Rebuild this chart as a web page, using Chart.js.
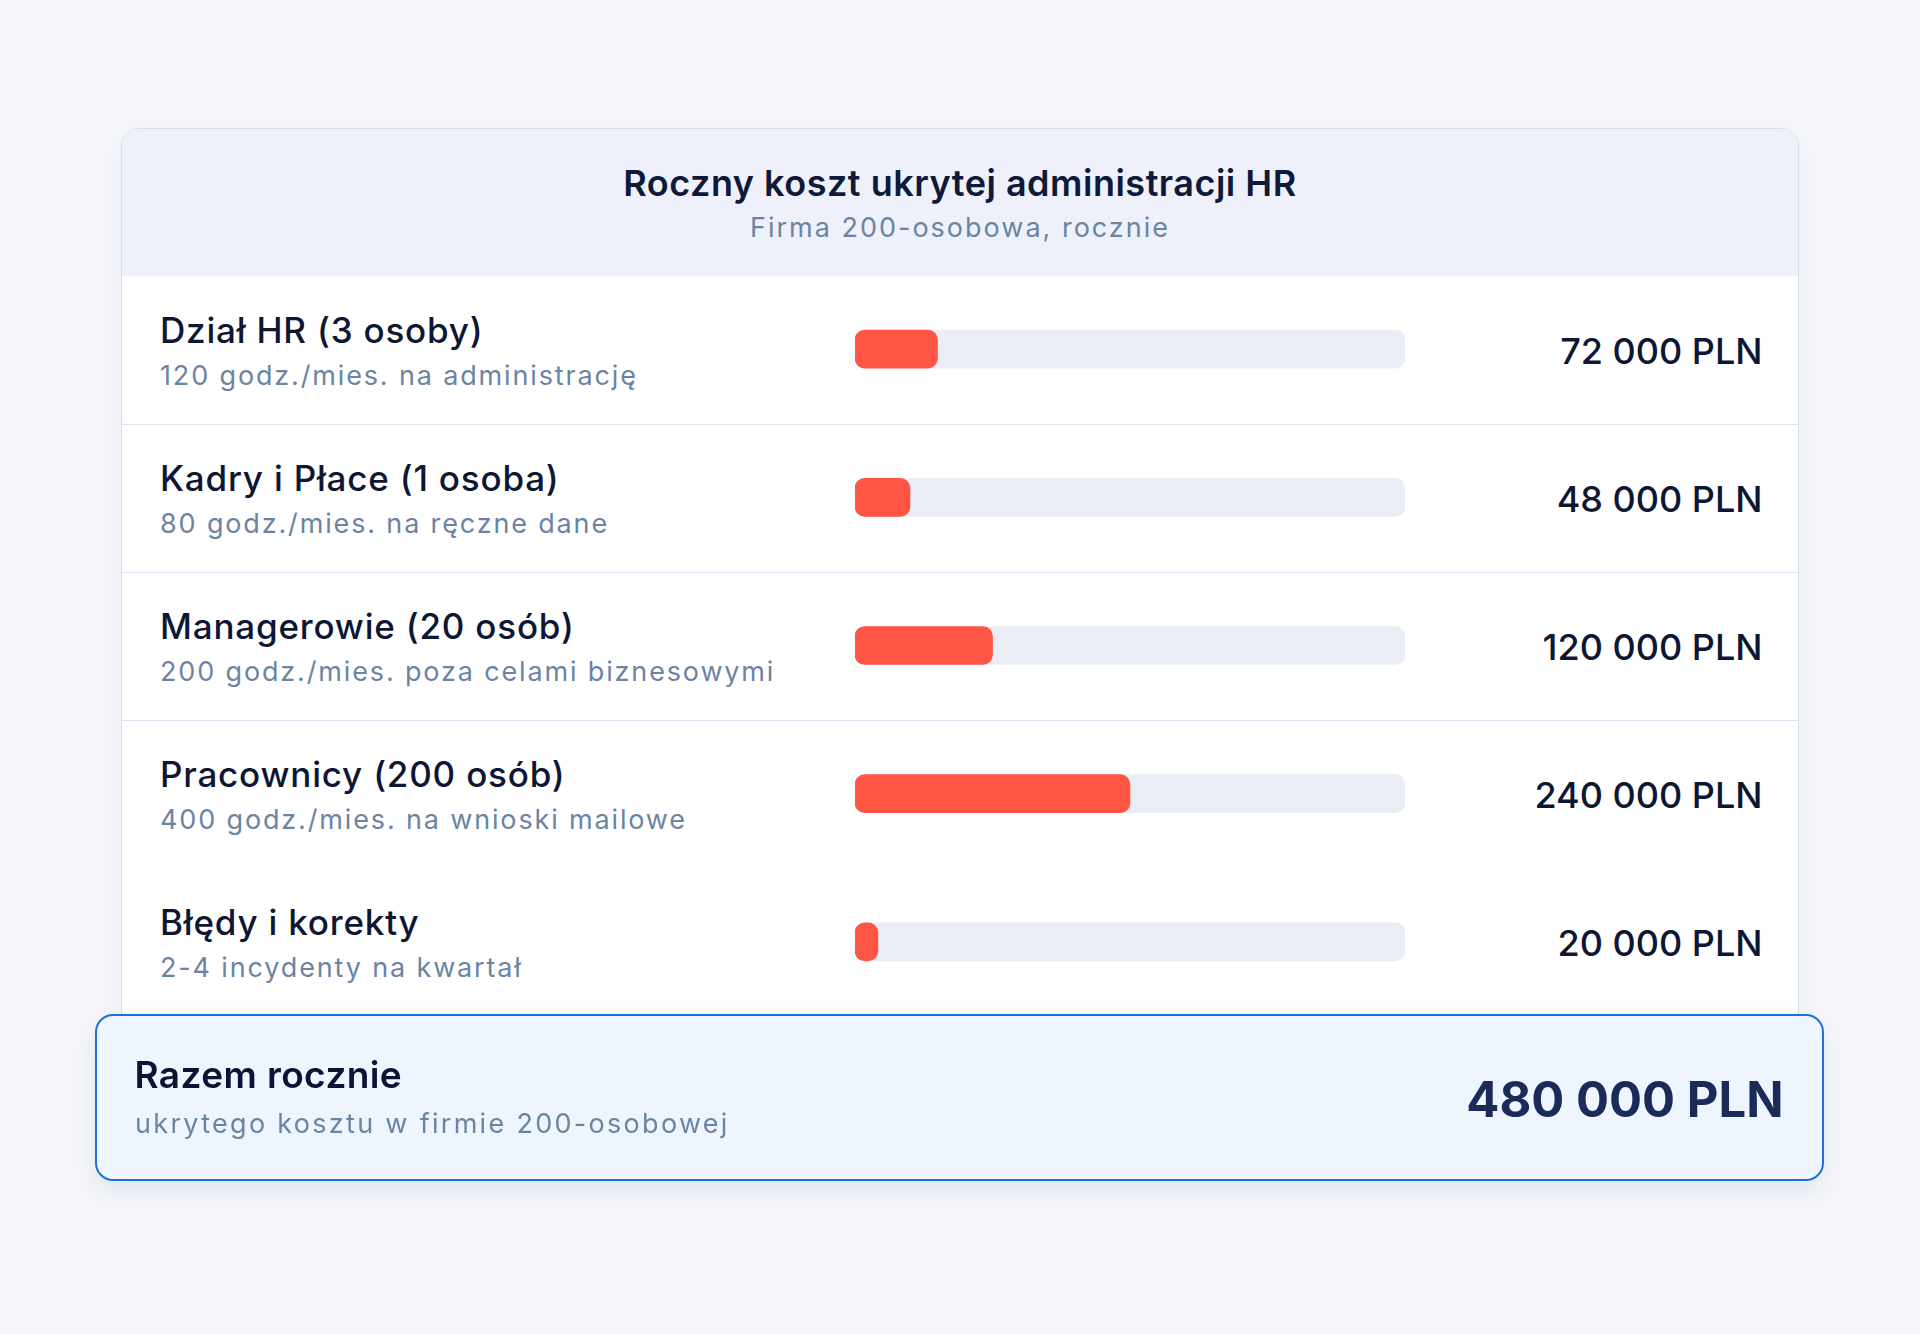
<!DOCTYPE html>
<html lang="pl">
<head>
<meta charset="utf-8">
<title>Roczny koszt ukrytej administracji HR</title>
<script src="https://cdn.jsdelivr.net/npm/chart.js@4.4.1/dist/chart.umd.min.js"></script>
<style>
  html, body { margin: 0; padding: 0; }
  body { width: 1920px; height: 1334px; background: #f6f7fc; position: relative; overflow: hidden; font-family: Inter, Lato, sans-serif; }
  .card { position: absolute; left: 121px; top: 128px; width: 1676px; height: 900px; background: #ffffff; border: 1px solid #d6dfee; border-radius: 18px; overflow: hidden; box-shadow: 0 6px 24px rgba(40,60,110,0.05); }
  .header { position: absolute; left: 0; top: 0; width: 100%; height: 147px; background: #eef1f9; }
  .title { position: absolute; left: 0; width: 100%; text-align: center; top: 36px; font-size: 36px; line-height: 36px; font-weight: 600; color: #0f1a3a; letter-spacing: 0.5px; }
  .subtitle { position: absolute; left: 0; width: 100%; text-align: center; top: 85px; font-size: 27px; line-height: 27px; color: #6b84a3; letter-spacing: 2px; }
  .row { position: absolute; left: 0; width: 100%; height: 148px; }
  .row.div { border-bottom: 1px solid #dbe4f3; }
  .lab { position: absolute; left: 38px; top: 37px; font-size: 35px; line-height: 35px; font-weight: 500; color: #0d1633; white-space: nowrap; letter-spacing: 0.8px; }
  .sub { position: absolute; left: 38px; top: 86px; font-size: 27px; line-height: 27px; color: #6b84a3; letter-spacing: 1.85px; white-space: nowrap; }
  .val { position: absolute; right: 35.5px; top: 57px; font-size: 36px; line-height: 36px; font-weight: 500; color: #0d1633; white-space: nowrap; }
  #chartWrap { position: absolute; left: 855px; top: 275px; width: 550px; height: 741px; }
  .total { position: absolute; left: 95px; top: 1014px; width: 1725px; height: 163px; background: #eef5fe; border: 2px solid #1a73d4; border-radius: 18px; box-shadow: 0 10px 26px rgba(40,60,110,0.10); }
  .tlab { position: absolute; left: 37.5px; top: 39.5px; font-size: 37px; line-height: 37px; font-weight: 600; color: #0b1434; letter-spacing: 0.4px; }
  .tsub { position: absolute; left: 38px; top: 94px; font-size: 27px; line-height: 27px; color: #6b84a3; letter-spacing: 2.3px; }
  .tval { position: absolute; right: 38.5px; top: 59px; font-size: 49px; line-height: 49px; font-weight: 700; color: #1a2b58; }
</style>
</head>
<body>
<div class="card" id="card">
  <div class="header">
    <div class="title" id="title"></div>
    <div class="subtitle" id="subtitle"></div>
  </div>
</div>
<div id="chartWrap"><canvas id="chart" width="550" height="741"></canvas></div>
<div class="total">
  <div class="tlab" id="tlab"></div>
  <div class="tsub" id="tsub"></div>
  <div class="tval" id="tval"></div>
</div>
<script>
const chartTitle = "Roczny koszt ukrytej administracji HR";
const chartSubtitle = "Firma 200-osobowa, rocznie";
const categories = ["Dział HR (3 osoby)", "Kadry i Płace (1 osoba)", "Managerowie (20 osób)", "Pracownicy (200 osób)", "Błędy i korekty"];
const descriptions = ["120 godz./mies. na administrację", "80 godz./mies. na ręczne dane", "200 godz./mies. poza celami biznesowymi", "400 godz./mies. na wnioski mailowe", "2-4 incydenty na kwartał"];
const costs = [72000, 48000, 120000, 240000, 20000];
const totalLabel = "Razem rocznie";
const totalDescription = "ukrytego kosztu w firmie 200-osobowej";
const totalCost = 480000;
const currency = "PLN";

function fmt(v) { return String(v).replace(/\B(?=(\d{3})+(?!\d))/g, " ") + " " + currency; }

document.getElementById('title').textContent = chartTitle;
document.getElementById('subtitle').textContent = chartSubtitle;
document.getElementById('tlab').textContent = totalLabel;
document.getElementById('tsub').textContent = totalDescription;
document.getElementById('tval').textContent = fmt(totalCost);

const card = document.getElementById('card');
const rowTops = [147, 295, 443, 591, 739];
categories.forEach((c, i) => {
  const r = document.createElement('div');
  r.className = 'row' + (i < 3 ? ' div' : '');
  r.style.top = rowTops[i] + 'px';
  r.innerHTML = '<div class="lab"></div><div class="sub"></div><div class="val"></div>';
  r.querySelector('.lab').textContent = c;
  r.querySelector('.sub').textContent = descriptions[i];
  r.querySelector('.val').textContent = fmt(costs[i]);
  card.appendChild(r);
});

new Chart(document.getElementById('chart'), {
  type: 'bar',
  data: {
    labels: categories,
    datasets: [
      { label: 'Koszt', data: costs, backgroundColor: '#ff5544', borderRadius: 10, borderSkipped: false, barThickness: 38, grouped: false },
      { label: 'Skala', data: categories.map(() => totalCost), backgroundColor: '#eaedf6', borderRadius: 10, borderSkipped: false, barThickness: 38, grouped: false }
    ]
  },
  options: {
    indexAxis: 'y',
    responsive: false,
    animation: false,
    layout: { padding: 0 },
    scales: {
      x: { display: false, min: 0, max: totalCost },
      y: { display: false }
    },
    plugins: { legend: { display: false }, tooltip: { enabled: false } }
  }
});
</script>
</body>
</html>
